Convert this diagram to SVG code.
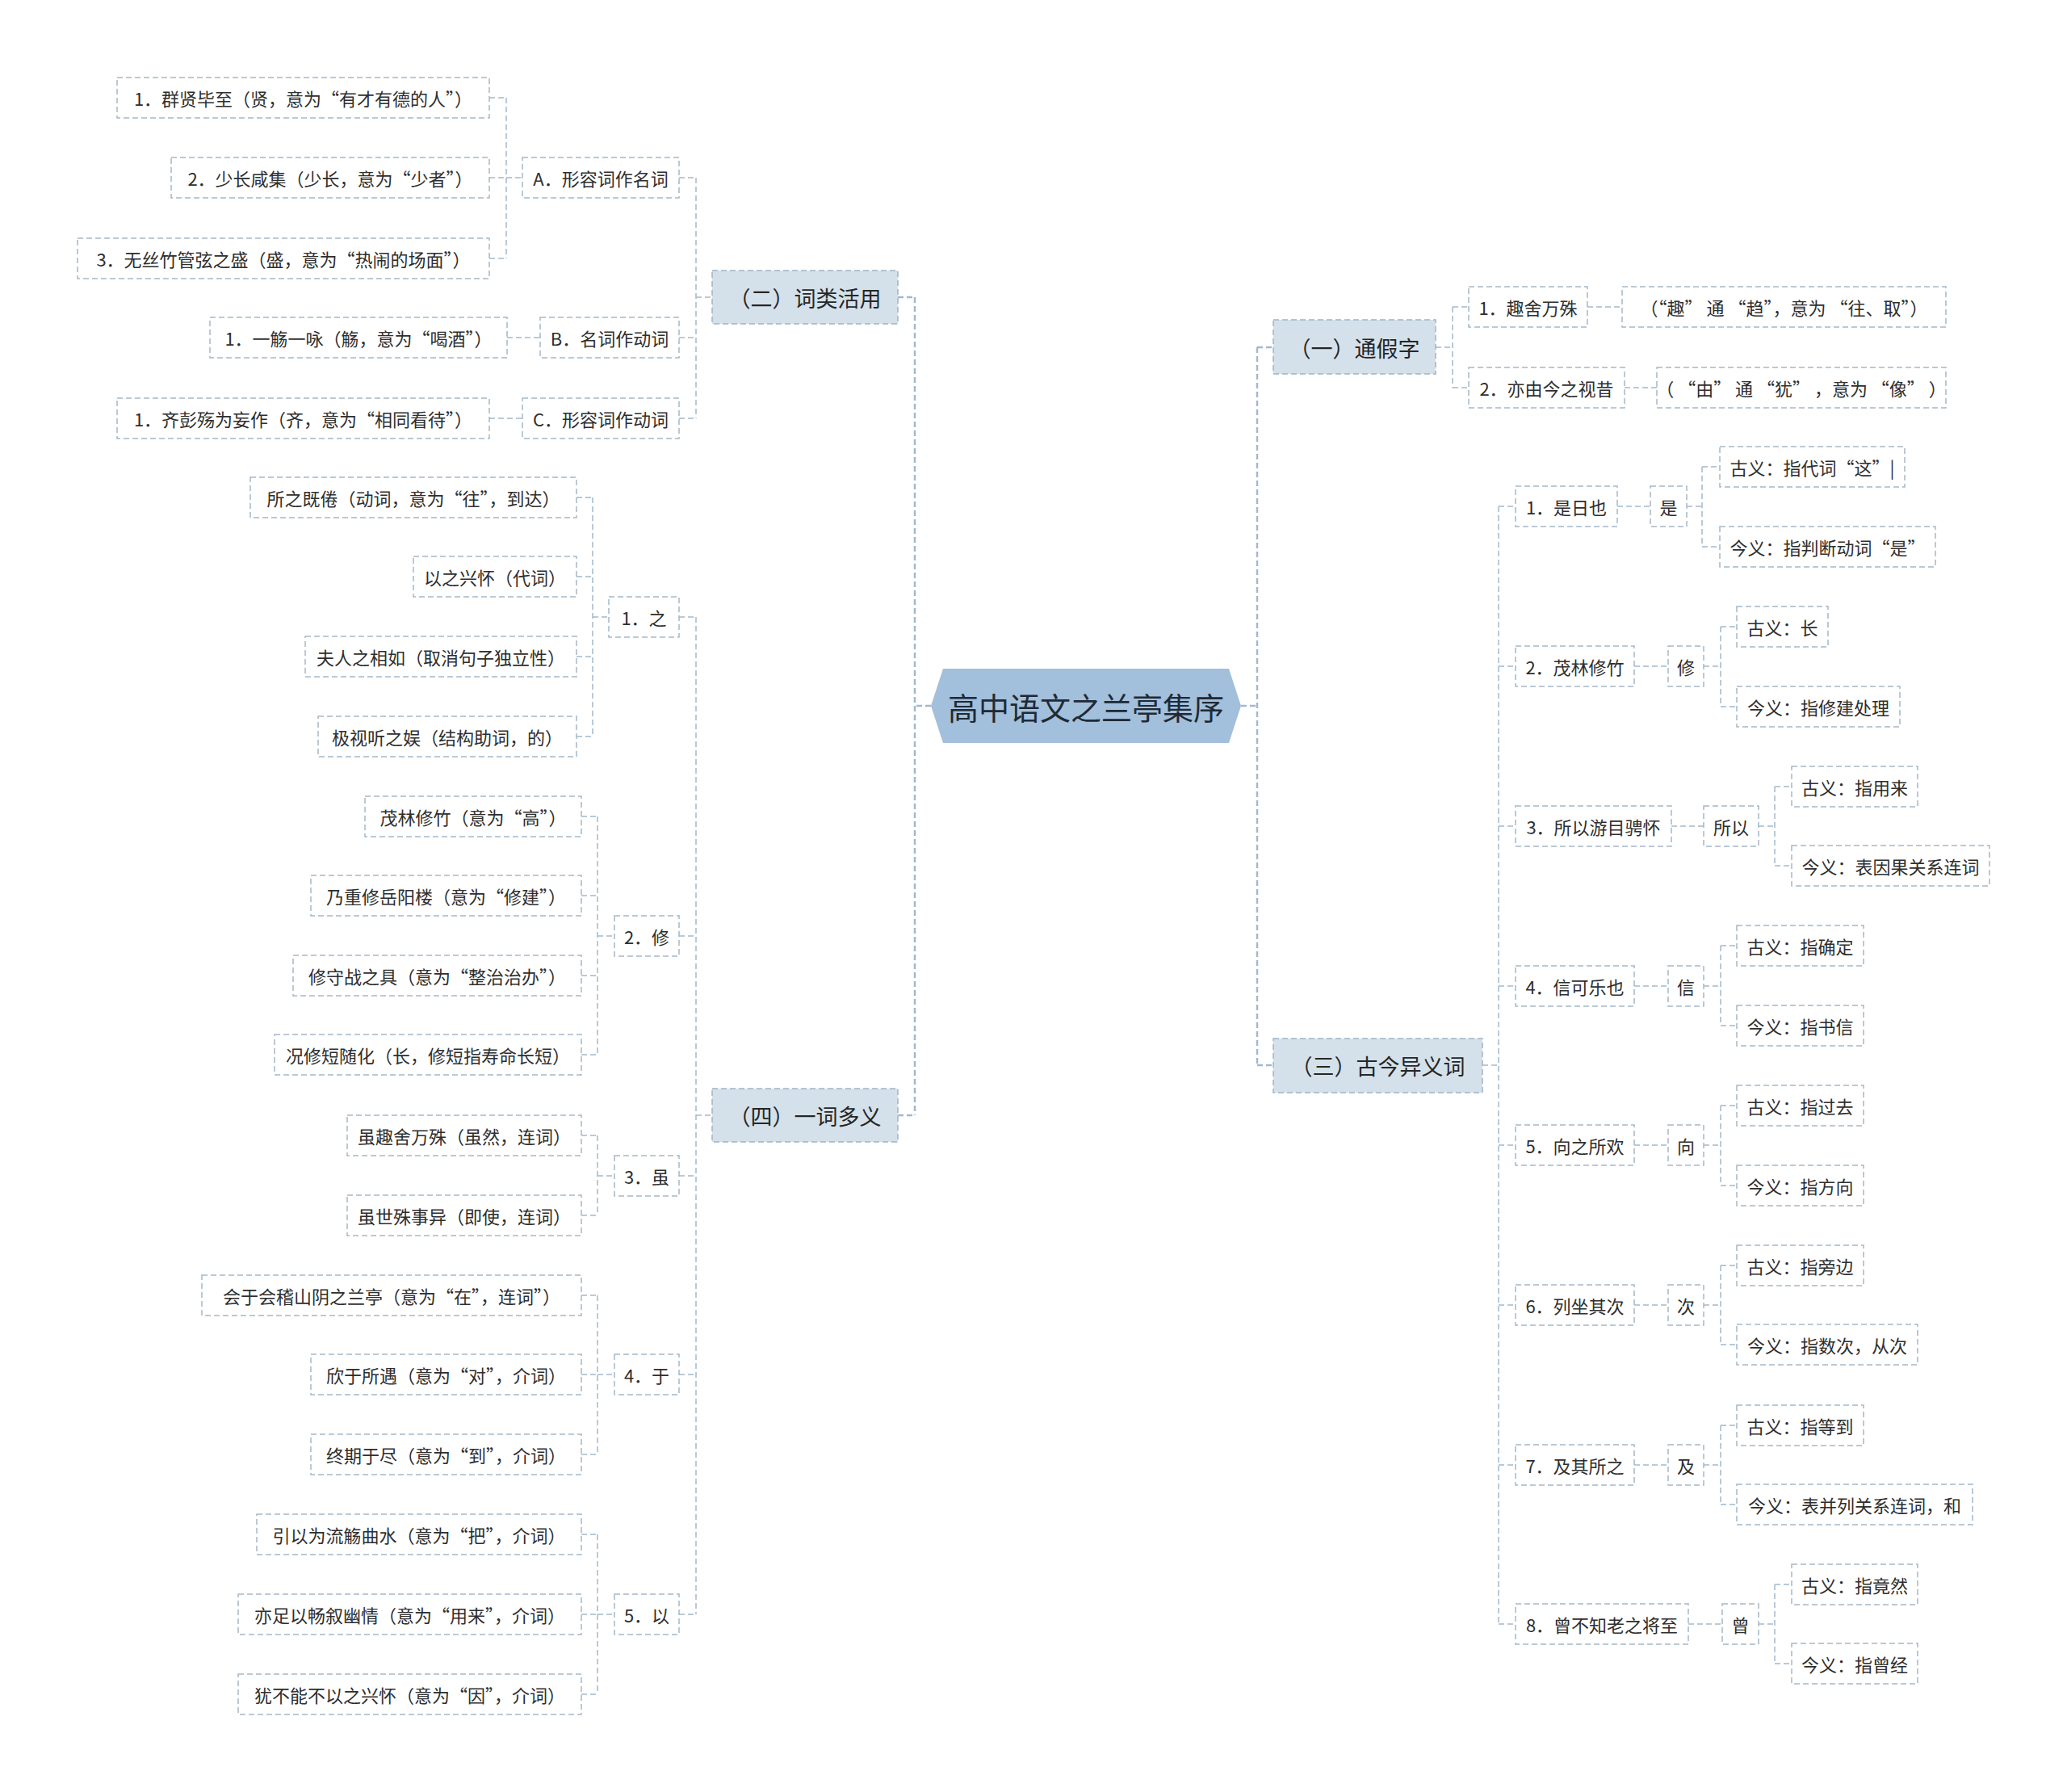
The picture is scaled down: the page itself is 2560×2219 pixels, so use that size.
<svg xmlns="http://www.w3.org/2000/svg" width="2560" height="2219" viewBox="0 0 2560 2219">
<style>
.n{fill:#fff;stroke:#a5b8c8;stroke-width:1.5;stroke-dasharray:7 4}
.n1{fill:#d4e1ea;stroke:#a0b4c6;stroke-width:1.5;stroke-dasharray:7 4}
.t{font-family:"Noto Sans CJK SC","Noto Sans",sans-serif;font-size:22px;fill:#2e2e2e;text-anchor:middle;dominant-baseline:central}
.t1{font-size:27px;fill:#262626}
.t0{font-size:38px;fill:#1e2a36}
.c{fill:none;stroke:#a2b9cd;stroke-width:1.5;stroke-dasharray:7 4}
.cm{fill:none;stroke:#a2b9cd;stroke-width:2.5;stroke-dasharray:7 4}
</style>
<rect width="2560" height="2219" fill="#fff"/>
<g id="connectors">
<path class="cm" d="M1133,368 V1381 M1112,368 H1133 M1112,1381 H1133 M1153,874 H1133"/>
<path class="cm" d="M1557,430 V1319 M1537,874 H1557 M1557,430 H1577 M1557,1319 H1577"/>
<path class="c" d="M862,220 V518 M841,220 H862 M841,418 H862 M841,518 H862 M862,368 H882"/>
<path class="c" d="M627,121 V320 M606,121 H627 M606,220 H627 M606,320 H627 M627,220 H647"/>
<path class="c" d="M628,418 H669 M606,518 H647"/>
<path class="c" d="M862,764 V1999 M841,764 H862 M841,1159 H862 M841,1456 H862 M841,1702 H862 M841,1999 H862 M862,1381 H882"/>
<path class="c" d="M734,616 V912 M714,616 H734 M714,714 H734 M714,813 H734 M714,912 H734 M734,764 H754"/>
<path class="c" d="M740,1011 V1306 M720,1011 H740 M720,1109 H740 M720,1208 H740 M720,1306 H740 M740,1159 H761"/>
<path class="c" d="M740,1406 V1505 M720,1406 H740 M720,1505 H740 M740,1456 H761"/>
<path class="c" d="M740,1604 V1801 M720,1604 H740 M720,1702 H740 M720,1801 H740 M740,1702 H761"/>
<path class="c" d="M740,1900 V2098 M720,1900 H740 M720,1999 H740 M720,2098 H740 M740,1999 H761"/>
<path class="c" d="M1799,380 V480 M1778,430 H1799 M1799,380 H1819 M1799,480 H1819 M1966,380 H2009 M2012,480 H2052"/>
<path class="c" d="M1856,627 V2011 M1836,1319 H1856 M1856,627 H1877 M1856,825 H1877 M1856,1023 H1877 M1856,1221 H1877 M1856,1418 H1877 M1856,1616 H1877 M1856,1814 H1877 M1856,2011 H1877"/>
<path class="c" d="M2003,627 H2044 M2089,627 H2108 M2108,578 V677 M2108,578 H2130 M2108,677 H2130"/>
<path class="c" d="M2024,825 H2066 M2110,825 H2131 M2131,776 V875 M2131,776 H2151 M2131,875 H2151"/>
<path class="c" d="M2070,1023 H2110 M2178,1023 H2198 M2198,974 V1072 M2198,974 H2219 M2198,1072 H2219"/>
<path class="c" d="M2024,1221 H2066 M2110,1221 H2131 M2131,1171 V1270 M2131,1171 H2151 M2131,1270 H2151"/>
<path class="c" d="M2024,1418 H2066 M2110,1418 H2131 M2131,1369 V1468 M2131,1369 H2151 M2131,1468 H2151"/>
<path class="c" d="M2024,1616 H2066 M2110,1616 H2131 M2131,1567 V1665 M2131,1567 H2151 M2131,1665 H2151"/>
<path class="c" d="M2024,1814 H2066 M2110,1814 H2131 M2131,1765 V1863 M2131,1765 H2151 M2131,1863 H2151"/>
<path class="c" d="M2091,2011 H2133 M2178,2011 H2198 M2198,1962 V2060 M2198,1962 H2219 M2198,2060 H2219"/>
</g>
<g id="root"><polygon points="1153,874 1168,828 1522,828 1537,874 1522,920 1168,920" fill="#a2bfdb"/><text class="t t0" x="1345" y="874">高中语文之兰亭集序</text></g>

<g id="n-er"><rect class="n1" x="882" y="335" width="230" height="66"/><text class="t t1" x="997" y="368">（二）词类活用</text></g>
<g id="n-A"><rect class="n" x="647" y="195" width="194" height="50"/><text class="t" x="744" y="220">A．形容词作名词</text></g>
<g id="n-A1"><rect class="n" x="145" y="96" width="461" height="50"/><text class="t" x="375.5" y="121">1．群贤毕至（贤，意为“有才有德的人”）</text></g>
<g id="n-A2"><rect class="n" x="212" y="195" width="394" height="50"/><text class="t" x="409" y="220">2．少长咸集（少长，意为“少者”）</text></g>
<g id="n-A3"><rect class="n" x="96" y="295" width="510" height="50"/><text class="t" x="351" y="320">3．无丝竹管弦之盛（盛，意为“热闹的场面”）</text></g>
<g id="n-B"><rect class="n" x="669" y="393" width="172" height="50"/><text class="t" x="755" y="418">B．名词作动词</text></g>
<g id="n-B1"><rect class="n" x="260" y="393" width="368" height="50"/><text class="t" x="444" y="418">1．一觞一咏（觞，意为“喝酒”）</text></g>
<g id="n-C"><rect class="n" x="647" y="493" width="194" height="50"/><text class="t" x="744" y="518">C．形容词作动词</text></g>
<g id="n-C1"><rect class="n" x="145" y="493" width="461" height="50"/><text class="t" x="375.5" y="518">1．齐彭殇为妄作（齐，意为“相同看待”）</text></g>

<g id="n-si"><rect class="n1" x="882" y="1348" width="230" height="66"/><text class="t t1" x="997" y="1381">（四）一词多义</text></g>
<g id="n-z"><rect class="n" x="754" y="739" width="87" height="50"/><text class="t" x="797.5" y="764">1．之</text></g>
<g id="n-z1"><rect class="n" x="310" y="591" width="404" height="50"/><text class="t" x="512" y="616">所之既倦（动词，意为“往”，到达）</text></g>
<g id="n-z2"><rect class="n" x="512" y="689" width="202" height="50"/><text class="t" x="613" y="714">以之兴怀（代词）</text></g>
<g id="n-z3"><rect class="n" x="378" y="788" width="336" height="50"/><text class="t" x="546" y="813">夫人之相如（取消句子独立性）</text></g>
<g id="n-z4"><rect class="n" x="394" y="887" width="320" height="50"/><text class="t" x="554" y="912">极视听之娱（结构助词，的）</text></g>
<g id="n-x"><rect class="n" x="761" y="1134" width="80" height="50"/><text class="t" x="801" y="1159">2．修</text></g>
<g id="n-x1"><rect class="n" x="452" y="986" width="268" height="50"/><text class="t" x="586" y="1011">茂林修竹（意为“高”）</text></g>
<g id="n-x2"><rect class="n" x="385" y="1084" width="335" height="50"/><text class="t" x="552.5" y="1109">乃重修岳阳楼（意为“修建”）</text></g>
<g id="n-x3"><rect class="n" x="363" y="1183" width="357" height="50"/><text class="t" x="541.5" y="1208">修守战之具（意为“整治治办”）</text></g>
<g id="n-x4"><rect class="n" x="340" y="1281" width="380" height="50"/><text class="t" x="530" y="1306">况修短随化（长，修短指寿命长短）</text></g>
<g id="n-s"><rect class="n" x="761" y="1431" width="80" height="50"/><text class="t" x="801" y="1456">3．虽</text></g>
<g id="n-s1"><rect class="n" x="430" y="1381" width="290" height="50"/><text class="t" x="575" y="1406">虽趣舍万殊（虽然，连词）</text></g>
<g id="n-s2"><rect class="n" x="430" y="1480" width="290" height="50"/><text class="t" x="575" y="1505">虽世殊事异（即使，连词）</text></g>
<g id="n-y"><rect class="n" x="761" y="1677" width="80" height="50"/><text class="t" x="801" y="1702">4．于</text></g>
<g id="n-y1"><rect class="n" x="250" y="1579" width="470" height="50"/><text class="t" x="485" y="1604">会于会稽山阴之兰亭（意为“在”，连词”）</text></g>
<g id="n-y2"><rect class="n" x="385" y="1677" width="335" height="50"/><text class="t" x="552.5" y="1702">欣于所遇（意为“对”，介词）</text></g>
<g id="n-y3"><rect class="n" x="385" y="1776" width="335" height="50"/><text class="t" x="552.5" y="1801">终期于尽（意为“到”，介词）</text></g>
<g id="n-i"><rect class="n" x="761" y="1974" width="80" height="50"/><text class="t" x="801" y="1999">5．以</text></g>
<g id="n-i1"><rect class="n" x="318" y="1875" width="402" height="50"/><text class="t" x="519" y="1900">引以为流觞曲水（意为“把”，介词）</text></g>
<g id="n-i2"><rect class="n" x="295" y="1974" width="425" height="50"/><text class="t" x="507.5" y="1999">亦足以畅叙幽情（意为“用来”，介词）</text></g>
<g id="n-i3"><rect class="n" x="295" y="2073" width="425" height="50"/><text class="t" x="507.5" y="2098">犹不能不以之兴怀（意为“因”，介词）</text></g>

<g id="n-yi"><rect class="n1" x="1577" y="396" width="201" height="67"/><text class="t t1" x="1677.5" y="430">（一）通假字</text></g>
<g id="n-t1"><rect class="n" x="1819" y="355" width="147" height="50"/><text class="t" x="1892.5" y="380">1．趣舍万殊</text></g>
<g id="n-t1e"><rect class="n" x="2009" y="355" width="401" height="50"/><text class="t" x="2209.5" y="380">（“趣” 通 “趋”，意为 “往、取”）</text></g>
<g id="n-t2"><rect class="n" x="1819" y="455" width="193" height="50"/><text class="t" x="1915.5" y="480">2．亦由今之视昔</text></g>
<g id="n-t2e"><rect class="n" x="2052" y="455" width="358" height="50"/><text class="t" x="2231" y="480">（ “由” 通 “犹” ，意为 “像” ）</text></g>

<g id="n-san"><rect class="n1" x="1577" y="1286" width="259" height="67"/><text class="t t1" x="1706.5" y="1319.5">（三）古今异义词</text></g>
<g id="n-g1"><rect class="n" x="1877" y="602" width="126" height="50"/><text class="t" x="1940" y="627">1．是日也</text></g>
<g id="n-g1w"><rect class="n" x="2044" y="602" width="45" height="50"/><text class="t" x="2066.5" y="627">是</text></g>
<g id="n-g1a"><rect class="n" x="2130" y="553" width="229" height="50"/><text class="t" x="2244.5" y="578">古义：指代词“这”|</text></g>
<g id="n-g1b"><rect class="n" x="2130" y="652" width="267" height="50"/><text class="t" x="2263.5" y="677">今义：指判断动词“是”</text></g>
<g id="n-g2"><rect class="n" x="1877" y="800" width="147" height="50"/><text class="t" x="1950.5" y="825">2．茂林修竹</text></g>
<g id="n-g2w"><rect class="n" x="2066" y="800" width="44" height="50"/><text class="t" x="2088" y="825">修</text></g>
<g id="n-g2a"><rect class="n" x="2151" y="751" width="113" height="50"/><text class="t" x="2207.5" y="776">古义：长</text></g>
<g id="n-g2b"><rect class="n" x="2151" y="850" width="202" height="50"/><text class="t" x="2252" y="875">今义：指修建处理</text></g>
<g id="n-g3"><rect class="n" x="1877" y="998" width="193" height="50"/><text class="t" x="1973.5" y="1023">3．所以游目骋怀</text></g>
<g id="n-g3w"><rect class="n" x="2110" y="998" width="68" height="50"/><text class="t" x="2144" y="1023">所以</text></g>
<g id="n-g3a"><rect class="n" x="2219" y="949" width="156" height="50"/><text class="t" x="2297" y="974">古义：指用来</text></g>
<g id="n-g3b"><rect class="n" x="2219" y="1047" width="245" height="50"/><text class="t" x="2341.5" y="1072">今义：表因果关系连词</text></g>
<g id="n-g4"><rect class="n" x="1877" y="1196" width="147" height="50"/><text class="t" x="1950.5" y="1221">4．信可乐也</text></g>
<g id="n-g4w"><rect class="n" x="2066" y="1196" width="44" height="50"/><text class="t" x="2088" y="1221">信</text></g>
<g id="n-g4a"><rect class="n" x="2151" y="1146" width="157" height="50"/><text class="t" x="2229.5" y="1171">古义：指确定</text></g>
<g id="n-g4b"><rect class="n" x="2151" y="1245" width="157" height="50"/><text class="t" x="2229.5" y="1270">今义：指书信</text></g>
<g id="n-g5"><rect class="n" x="1877" y="1393" width="147" height="50"/><text class="t" x="1950.5" y="1418">5．向之所欢</text></g>
<g id="n-g5w"><rect class="n" x="2066" y="1393" width="44" height="50"/><text class="t" x="2088" y="1418">向</text></g>
<g id="n-g5a"><rect class="n" x="2151" y="1344" width="157" height="50"/><text class="t" x="2229.5" y="1369">古义：指过去</text></g>
<g id="n-g5b"><rect class="n" x="2151" y="1443" width="157" height="50"/><text class="t" x="2229.5" y="1468">今义：指方向</text></g>
<g id="n-g6"><rect class="n" x="1877" y="1591" width="147" height="50"/><text class="t" x="1950.5" y="1616">6．列坐其次</text></g>
<g id="n-g6w"><rect class="n" x="2066" y="1591" width="44" height="50"/><text class="t" x="2088" y="1616">次</text></g>
<g id="n-g6a"><rect class="n" x="2151" y="1542" width="157" height="50"/><text class="t" x="2229.5" y="1567">古义：指旁边</text></g>
<g id="n-g6b"><rect class="n" x="2151" y="1640" width="224" height="50"/><text class="t" x="2263" y="1665">今义：指数次，从次</text></g>
<g id="n-g7"><rect class="n" x="1877" y="1789" width="147" height="50"/><text class="t" x="1950.5" y="1814">7．及其所之</text></g>
<g id="n-g7w"><rect class="n" x="2066" y="1789" width="44" height="50"/><text class="t" x="2088" y="1814">及</text></g>
<g id="n-g7a"><rect class="n" x="2151" y="1740" width="157" height="50"/><text class="t" x="2229.5" y="1765">古义：指等到</text></g>
<g id="n-g7b"><rect class="n" x="2151" y="1838" width="292" height="50"/><text class="t" x="2297" y="1863">今义：表并列关系连词，和</text></g>
<g id="n-g8"><rect class="n" x="1877" y="1986" width="214" height="50"/><text class="t" x="1984" y="2011">8．曾不知老之将至</text></g>
<g id="n-g8w"><rect class="n" x="2133" y="1986" width="45" height="50"/><text class="t" x="2155.5" y="2011">曾</text></g>
<g id="n-g8a"><rect class="n" x="2219" y="1937" width="156" height="50"/><text class="t" x="2297" y="1962">古义：指竟然</text></g>
<g id="n-g8b"><rect class="n" x="2219" y="2035" width="156" height="50"/><text class="t" x="2297" y="2060">今义：指曾经</text></g>
</svg>
